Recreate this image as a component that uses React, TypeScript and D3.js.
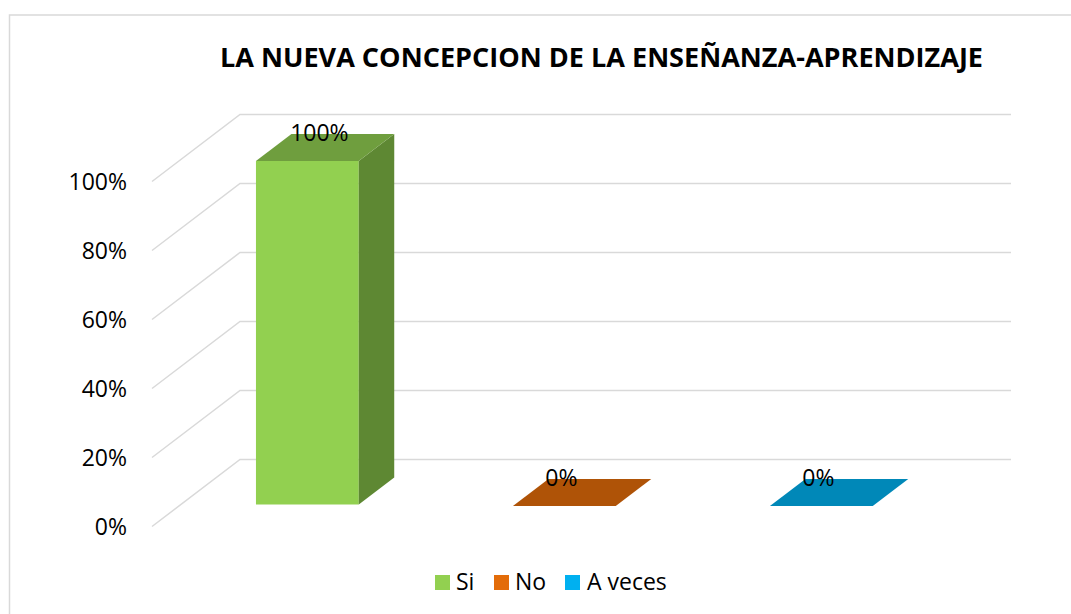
import React from "react";
import * as d3 from "d3";

const title = "LA NUEVA CONCEPCION DE LA ENSEÑANZA-APRENDIZAJE";
const categories = ["Si", "No", "A veces"];
const values = [1, 0, 0];
const valueLabels = ["100%", "0%", "0%"];
const yTicks = [0, 0.2, 0.4, 0.6, 0.8, 1];
const yTickLabels = ["0%", "20%", "40%", "60%", "80%", "100%"];
const legendColors = ["#92D050", "#E36C09", "#00B0F0"];
const frontColors = ["#92D050", "#E36C09", "#00B0F0"];
const sideColors = ["#5E8833", "#9A4A06", "#00779F"];
const topColors = ["#6F9E3E", "#AF5307", "#0088B8"];

const W = 1071;
const H = 614;
const FONT = "'Open Sans', 'Noto Sans', sans-serif";

export default function App() {
  const x = d3.scaleBand<string>().domain(categories).range([152, 923]).padding(0);
  const y = d3.scaleLinear().domain([0, 1]).range([526.5, 181.5]);
  const DX = 88;
  const DY = 67;
  const fT = 0.328;
  const bT = 0.731;
  const barFrac = 0.4;

  const pt = (px: number, py: number, t: number): [number, number] => [px + DX * t, py - DY * t];
  const poly = (pts: [number, number][]) => pts.map((p) => p.join(",")).join(" ");

  return (
    <svg width={W} height={H} style={{ position: "absolute", left: 0, top: 0, background: "#fff" }} xmlns="http://www.w3.org/2000/svg">
      <rect x={9.5} y={15} width={1200} height={800} fill="#fff" stroke="#D9D9D9" strokeWidth={1.5} />
      <text x={601.5} y={67} textAnchor="middle" fontFamily={FONT} fontWeight="bold" fontSize={27} textLength={763} lengthAdjust="spacingAndGlyphs" fill="#000">
        {title}
      </text>
      {yTicks.map((v, i) => {
        const a = pt(152, y(v), 0);
        const b = pt(152, y(v), 1);
        const c = pt(923, y(v), 1);
        return (
          <g key={i}>
            <polyline points={poly([a, b, c])} fill="none" stroke="#D9D9D9" strokeWidth={1.5} />
            <text x={127} y={y(v) + 8} textAnchor="end" fontFamily={FONT} fontSize={23} fill="#000">
              {yTickLabels[i]}
            </text>
          </g>
        );
      })}
      {categories.map((c, i) => {
        const bw = x.bandwidth();
        const cx = (x(c) as number) + bw / 2 - 2;
        const x0 = cx - (bw * barFrac) / 2;
        const x1 = cx + (bw * barFrac) / 2;
        const y0 = y(0);
        const y1 = y(values[i]);
        const fbl = pt(x0, y0, fT);
        const fbr = pt(x1, y0, fT);
        const ftl = pt(x0, y1 + 1.5, fT);
        const ftr = pt(x1, y1 + 1.5, fT);
        const bbr = pt(x1, y0, bT);
        const btl = pt(x0, y1 + 1.5, bT);
        const btr = pt(x1, y1 + 1.5, bT);
        const h = values[i] > 0;
        const labelX = pt(cx, y1, fT)[0] + (h ? 12 : -3);
        const labelY = btl[1] + 7;
        return (
          <g key={c}>
            {h && <polygon points={poly([fbl, fbr, ftr, ftl])} fill={frontColors[i]} />}
            {h && <polygon points={poly([fbr, bbr, btr, ftr])} fill={sideColors[i]} />}
            <polygon points={poly([ftl, ftr, btr, btl])} fill={topColors[i]} />
            <text x={labelX} y={labelY} textAnchor="middle" fontFamily={FONT} fontSize={23} fill="#000">
              {valueLabels[i]}
            </text>
          </g>
        );
      })}
      {(() => {
        const items = [
          { sx: 435, tx: 456 },
          { sx: 494, tx: 515 },
          { sx: 565, tx: 587 },
        ];
        return categories.map((c, i) => (
          <g key={"lg" + c}>
            <rect x={items[i].sx} y={575} width={15} height={15} fill={legendColors[i]} />
            <text x={items[i].tx} y={590} fontFamily={FONT} fontSize={23} fill="#000">
              {c}
            </text>
          </g>
        ));
      })()}
    </svg>
  );
}
